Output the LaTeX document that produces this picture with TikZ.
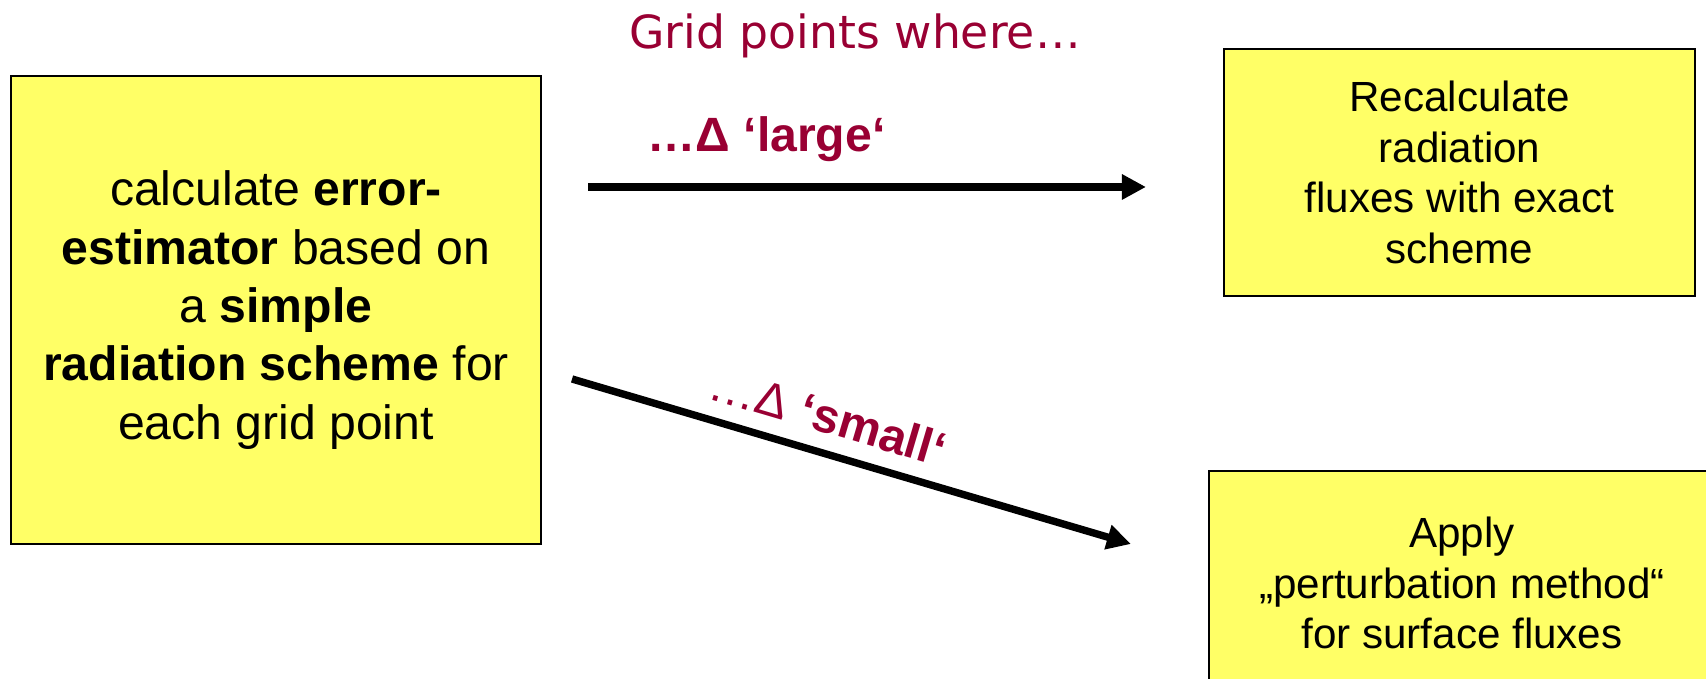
\documentclass[tikz,border=0pt]{standalone}
\usepackage{fontspec}
\setmainfont{Liberation Sans}
\newfontfamily\titlefont{DejaVu Sans}
\usetikzlibrary{arrows.meta}
\definecolor{wine}{HTML}{990033}
\definecolor{boxyellow}{HTML}{FFFF66}
\begin{document}
\begin{tikzpicture}[
    box/.style={draw, line width=0.6pt, fill=boxyellow, align=center, inner sep=0pt},
    bigtext/.style={font=\fontsize{13.7}{16.6}\selectfont},
    smalltext/.style={font=\fontsize{12}{14.4}\selectfont},
    flow/.style={line width=2.1pt, -{Triangle[length=2.4mm,width=2.4mm]}},
    tag/.style={text=wine, font=\fontsize{13.7}{16}\selectfont\bfseries}]
    \useasboundingbox (0,0) rectangle (17.06,6.79);
    \node[text=wine, font=\titlefont\fontsize{13}{15}\selectfont] (title) at (8.55,6.43) {Grid points where…};
    \node[box, bigtext, minimum width=5.30cm, minimum height=4.68cm] (calc) at (2.76,3.69)
        {calculate \textbf{error-}\\ \textbf{estimator} based on\\ a \textbf{simple}\\ \textbf{radiation scheme} for\\ each grid point};
    \node[box, smalltext, minimum width=4.71cm, minimum height=2.47cm] (recalc) at (14.595,5.065)
        {Recalculate\\ radiation\\ fluxes with exact\\ scheme};
    \node[box, smalltext, minimum width=5.06cm, minimum height=2.24cm] (perturb) at (14.62,0.96)
        {Apply\\ „perturbation method“\\ for surface fluxes};
    \draw[flow] ([shift={(0.46,1.23)}]calc.east) -- ([shift={(-0.77,-0.145)}]recalc.west)
        node[tag, pos=0.32, above=1mm] (large) {…Δ ‘large‘};
    \draw[flow] ([shift={(0.30,-0.69)}]calc.east) -- ([shift={(-0.77,0.39)}]perturb.west)
        node[tag, pos=0.44, sloped, above=0.4mm] (small) {{\mdseries …Δ} ‘small‘};
\end{tikzpicture}
\end{document}
